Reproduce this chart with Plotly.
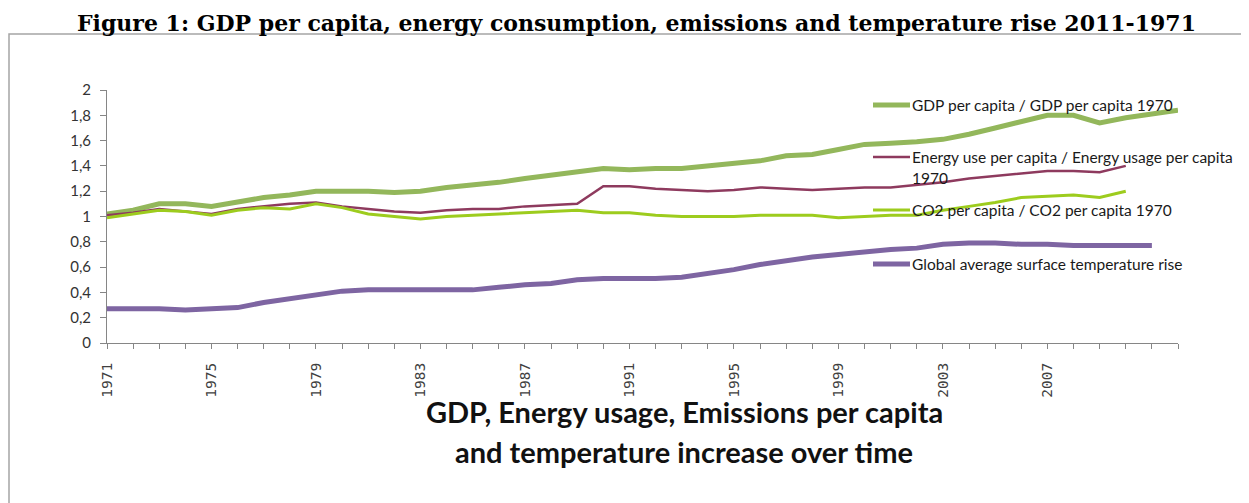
import plotly.graph_objects as go

years = list(range(1971, 2013))

gdp = [1.02, 1.05, 1.10, 1.10, 1.08, 1.12, 1.15, 1.17, 1.20, 1.20,
       1.20, 1.19, 1.20, 1.23, 1.25, 1.27, 1.30, 1.33, 1.35, 1.38,
       1.37, 1.38, 1.38, 1.40, 1.42, 1.44, 1.48, 1.49, 1.53, 1.57,
       1.58, 1.59, 1.61, 1.65, 1.70, 1.75, 1.80, 1.80, 1.74, 1.78,
       1.81, 1.84]
energy = [1.01, 1.03, 1.06, 1.04, 1.02, 1.06, 1.08, 1.10, 1.11, 1.08,
          1.06, 1.04, 1.03, 1.05, 1.06, 1.06, 1.08, 1.09, 1.10, 1.24,
          1.24, 1.22, 1.21, 1.20, 1.21, 1.23, 1.22, 1.21, 1.22, 1.23,
          1.23, 1.25, 1.27, 1.30, 1.32, 1.34, 1.36, 1.36, 1.35, 1.40]
co2 = [0.99, 1.02, 1.05, 1.04, 1.01, 1.05, 1.07, 1.06, 1.10, 1.07,
       1.02, 1.00, 0.98, 1.00, 1.01, 1.02, 1.03, 1.04, 1.05, 1.03,
       1.03, 1.01, 1.00, 1.00, 1.00, 1.01, 1.01, 1.01, 0.99, 1.00,
       1.01, 1.01, 1.05, 1.08, 1.11, 1.15, 1.16, 1.17, 1.15, 1.20]
temp = [0.27, 0.27, 0.27, 0.26, 0.27, 0.28, 0.32, 0.35, 0.38, 0.41,
        0.42, 0.42, 0.42, 0.42, 0.42, 0.44, 0.46, 0.47, 0.50, 0.51,
        0.51, 0.51, 0.52, 0.55, 0.58, 0.62, 0.65, 0.68, 0.70, 0.72,
        0.74, 0.75, 0.78, 0.79, 0.79, 0.78, 0.78, 0.77, 0.77, 0.77,
        0.77]

series_names = [
    "GDP per capita / GDP per capita 1970",
    "Energy use per capita / Energy usage per capita<br>1970",
    "CO2 per capita / CO2 per capita 1970",
    "Global average surface temperature rise",
]
x_tick_labels = ["1971", "1975", "1979", "1983", "1987", "1991", "1995", "1999", "2003", "2007"]
y_ticks = [0, 0.2, 0.4, 0.6, 0.8, 1, 1.2, 1.4, 1.6, 1.8, 2]

title_text = "Figure 1: GDP per capita, energy consumption, emissions and temperature rise 2011-1971"
axis_title_1 = "GDP, Energy usage, Emissions per capita"
axis_title_2 = "and temperature increase over time"

colors = ["#93B75B", "#8E3A5E", "#9DCC1E", "#7E65A2"]
widths = [5, 2.5, 3, 5]

# page body has an 8px margin: figure coords = screen coords - 8
OFF = 8
W_FIG, H_FIG = 1249 - OFF, 503 - OFF
# plot area in screen pixels
SL, SR, ST, SB = 107, 1178, 90, 343
L, R_PX, T, B = SL - OFF, SR - OFF, ST - OFF, SB - OFF
PW, PH = R_PX - L, B - T


def px(x):  # screen x -> paper
    return (x - OFF - L) / PW


def py(y):  # screen y -> paper
    return (B - (y - OFF)) / PH


fig = go.Figure()
data = [gdp, energy, co2, temp]
for name, vals, c, w in zip(series_names, data, colors, widths):
    fig.add_trace(go.Scatter(
        x=[int(v) for v in years[:len(vals)]], y=vals, mode="lines", name=name,
        line=dict(color=c, width=w), showlegend=False))

annotations = []
shapes = []

# frame
shapes.append(dict(type="rect", xref="paper", yref="paper",
                   x0=px(9), x1=px(1262), y0=py(530), y1=py(34),
                   line=dict(color="#A5A5A5", width=1.5), layer="below"))

# legend entries (manual, Excel style)
leg_rows = [105, 157, 210, 264]
for name, c, w, yy in zip(series_names, colors, widths, leg_rows):
    shapes.append(dict(type="line", xref="paper", yref="paper",
                       x0=px(873), x1=px(910), y0=py(yy), y1=py(yy),
                       line=dict(color=c, width=w)))
for name, yy in zip(series_names, leg_rows):
    parts = name.split("<br>")
    for k, p in enumerate(parts):
        annotations.append(dict(
            text=p, xref="paper", yref="paper", x=px(910), y=py(yy + 21 * k),
            xanchor="left", yanchor="middle", showarrow=False,
            font=dict(family="Lato, Open Sans, sans-serif", size=15.5, color="#1a1a1a")))

# title
annotations.append(dict(
    text="<b>" + title_text + "</b>", xref="paper", yref="paper",
    x=px(636), y=py(OFF), xanchor="center", yanchor="top", showarrow=False,
    font=dict(family="DejaVu Serif, Liberation Serif, serif", size=22, color="#000000")))

# axis title (two lines)
for txt, yy in [(axis_title_1, 411), (axis_title_2, 451)]:
    annotations.append(dict(
        text="<b>" + txt + "</b>", xref="paper", yref="paper",
        x=px(684), y=py(yy), xanchor="center", yanchor="middle", showarrow=False,
        font=dict(family="Lato, sans-serif", size=29, color="#111111")))

fig.update_layout(
    width=W_FIG, height=H_FIG,
    margin=dict(l=L, r=W_FIG - R_PX, t=T, b=H_FIG - B, pad=0),
    paper_bgcolor="white", plot_bgcolor="white",
    separators=",.",
    annotations=annotations, shapes=shapes,
    showlegend=False,
)
fig.update_xaxes(
    range=[1971, 2012], tickmode="array",
    tickvals=[int(t) for t in x_tick_labels], ticktext=x_tick_labels,
    tickangle=-90, ticks="outside", ticklen=5, tickcolor="#868686",
    ticklabelstandoff=8,
    showline=True, linecolor="#868686", linewidth=1, showgrid=False, zeroline=False,
    tickfont=dict(family="DejaVu Sans Mono, monospace", size=14.5, color="#404040"),
    minor=dict(tickmode="linear", dtick=1, tick0=1971, ticks="outside", ticklen=5,
               tickcolor="#868686", showgrid=False),
)
fig.update_yaxes(
    range=[0, 2], tickvals=y_ticks, ticks="outside", ticklen=6, tickcolor="#868686",
    ticklabelstandoff=6,
    showline=True, linecolor="#868686", linewidth=1, showgrid=False, zeroline=False,
    tickfont=dict(family="Lato, Open Sans, sans-serif", size=15, color="#333333"),
)

fig.write_html("out.html")
